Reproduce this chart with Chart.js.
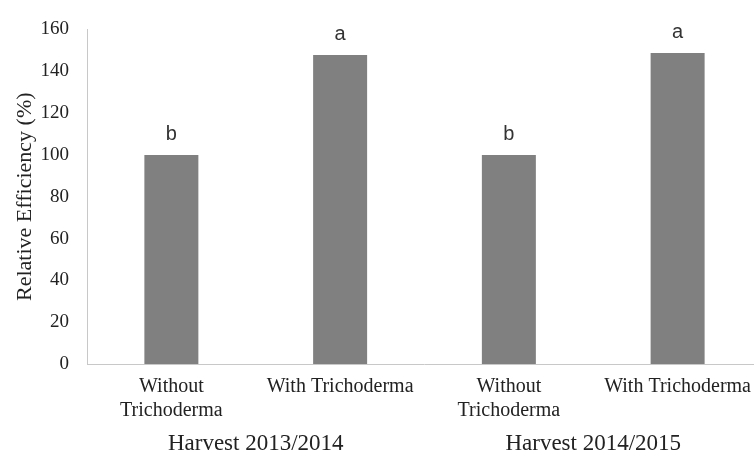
<!DOCTYPE html>
<html>
<head>
<meta charset="utf-8">
<script src="https://cdn.jsdelivr.net/npm/chart.js@4"></script>
<style>
    html, body {
        margin: 0;
        padding: 0;
        background: #ffffff;
        overflow: hidden;
    }

    #chartBox {
        width: 762px;
        height: 454px;
    }
</style>
</head>
<body>
<div id="chartBox">
    <canvas id="efficiencyChart"></canvas>
</div>
<script>
const treatmentLabels = [
    ["Without", "Trichoderma"],
    "With Trichoderma",
    ["Without", "Trichoderma"],
    "With Trichoderma",
];
const harvestLabels = ["Harvest 2013/2014", "Harvest 2014/2015"];
const efficiencyValues = [100, 147.8, 100, 148.7];
const significanceLetters = ["b", "a", "b", "a"];

const serifFont = "'Liberation Serif', 'Times New Roman', serif";
const axisColor = "#c8c8c8";
const textColor = "#222222";

// letras de significancia por cima de cada barra
const letterPlugin = {
    id: "significanceLetters",
    afterDatasetsDraw(chart) {
        const ctx = chart.ctx;
        const meta = chart.getDatasetMeta(0);

        ctx.save();
        ctx.font = "20px 'Liberation Sans', Arial, sans-serif";
        ctx.fillStyle = "#333333";
        ctx.textAlign = "center";
        ctx.textBaseline = "alphabetic";

        meta.data.forEach((bar, index) => {
            ctx.fillText(significanceLetters[index], bar.x, bar.y - 15);
        });

        ctx.restore();
    },
};

const canvas = document.getElementById("efficiencyChart");

new Chart(canvas.getContext("2d"), {
    type: "bar",
    data: {
        labels: treatmentLabels,
        datasets: [{
            data: efficiencyValues,
            backgroundColor: "#808080",
            borderWidth: 0,
            barPercentage: 0.32,
            categoryPercentage: 1,
        }],
    },
    options: {
        responsive: true,
        maintainAspectRatio: false,
        animation: false,
        layout: {
            padding: { top: 23, right: 0, bottom: 0, left: 0 },
        },
        plugins: {
            legend: { display: false },
            tooltip: { enabled: false },
        },
        scales: {
            y: {
                min: 0,
                max: 160,
                afterFit(scale) {
                    scale.width = 87;
                },
                ticks: {
                    stepSize: 20,
                    padding: 18,
                    color: textColor,
                    font: { family: serifFont, size: 19 },
                },
                grid: { display: false, drawTicks: false },
                border: { display: true, color: axisColor, width: 1 },
                title: {
                    display: true,
                    text: "Relative Efficiency (%)",
                    color: textColor,
                    padding: { top: 12, bottom: 0 },
                    font: { family: serifFont, size: 22 },
                },
            },
            x: {
                weight: 0,
                afterFit(scale) {
                    scale.height = 56;
                },
                ticks: {
                    padding: 11,
                    maxRotation: 0,
                    autoSkip: false,
                    color: textColor,
                    font: { family: serifFont, size: 20 },
                },
                grid: { display: false, drawTicks: false },
                border: { display: true, color: axisColor, width: 1 },
            },
            x2: {
                axis: "x",
                type: "category",
                position: "bottom",
                weight: 1,
                labels: harvestLabels,
                offset: true,
                afterFit(scale) {
                    scale.height = 34;
                },
                ticks: {
                    padding: 10,
                    maxRotation: 0,
                    autoSkip: false,
                    color: textColor,
                    font: { family: serifFont, size: 23 },
                },
                grid: { display: false, drawTicks: false },
                border: { display: false },
            },
        },
    },
    plugins: [letterPlugin],
});
</script>
</body>
</html>
